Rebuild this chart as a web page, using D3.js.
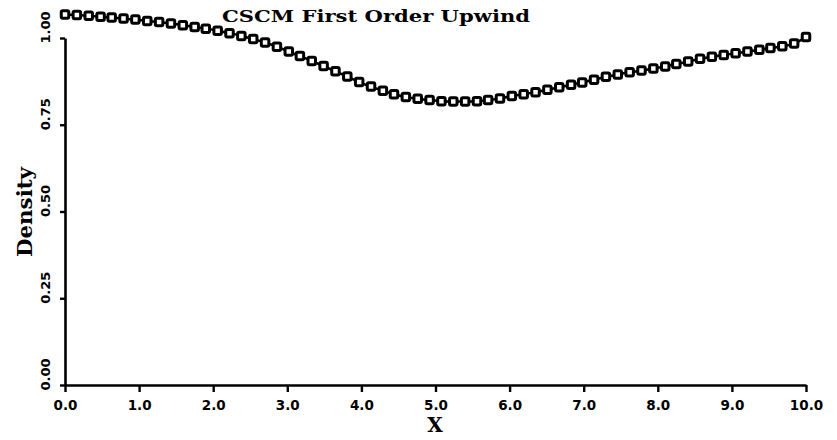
<!DOCTYPE html>
<html>
<head>
<meta charset="utf-8">
<script src="https://cdn.jsdelivr.net/npm/d3@7/dist/d3.min.js"></script>
<style>
  html, body { margin: 0; padding: 0; background: #fff; }
  svg { display: block; }
</style>
</head>
<body>
<svg id="chart" width="837" height="440"></svg>
<script>
const title = "CSCM First Order Upwind";
const xLabel = "X";
const yLabel = "Density";
const xTicks = [0, 1, 2, 3, 4, 5, 6, 7, 8, 9, 10];
const yTicks = [0, 0.25, 0.5, 0.75, 1.0];

const xValues = [0.00,0.16,0.32,0.48,0.63,0.79,0.95,1.11,1.27,1.43,1.59,1.75,1.90,2.06,2.22,2.38,
  2.54,2.70,2.86,3.02,3.17,3.33,3.49,3.65,3.81,3.97,4.13,4.29,4.44,4.60,4.76,4.92,
  5.08,5.24,5.40,5.56,5.71,5.87,6.03,6.19,6.35,6.51,6.67,6.83,6.98,7.14,7.30,7.46,
  7.62,7.78,7.94,8.10,8.25,8.41,8.57,8.73,8.89,9.05,9.21,9.37,9.52,9.68,9.84,10.00];
const density = [1.068,1.066,1.064,1.061,1.059,1.056,1.053,1.049,1.046,1.042,1.037,1.032,1.027,1.021,1.014,1.006,
  0.997,0.987,0.975,0.961,0.948,0.934,0.919,0.904,0.889,0.873,0.860,0.848,0.838,0.830,0.825,0.821,
  0.818,0.817,0.817,0.818,0.821,0.826,0.833,0.838,0.844,0.851,0.858,0.865,0.872,0.880,0.888,0.895,
  0.901,0.906,0.912,0.918,0.925,0.932,0.940,0.946,0.951,0.956,0.961,0.966,0.971,0.976,0.984,1.003];

const data = xValues.map((x, i) => ({ x, y: density[i] }));

const svg = d3.select("#chart");
const x = d3.scaleLinear().domain([0, 10]).range([65, 806]);
const y = d3.scaleLinear().domain([0, 1]).range([385, 38]);

const serif = "'DejaVu Serif', serif";
const sans = "'DejaVu Sans', sans-serif";

// X axis
const xAxis = svg.append("g")
  .attr("transform", "translate(0,385)")
  .call(d3.axisBottom(x).tickValues(xTicks).tickFormat(d3.format(".1f")).tickSize(7).tickSizeOuter(0));
xAxis.select(".domain").attr("stroke", "#000").attr("stroke-width", 2.6);
xAxis.selectAll(".tick line").attr("stroke", "#000").attr("stroke-width", 2.4);
xAxis.selectAll(".tick text")
  .attr("font-family", sans).attr("font-weight", "bold").attr("font-size", 13.5)
  .attr("fill", "#000").attr("dy", null).attr("y", 25);

// Y axis
const yAxis = svg.append("g")
  .attr("transform", "translate(65,0)")
  .call(d3.axisLeft(y).tickValues(yTicks).tickFormat(d3.format(".2f")).tickSize(5).tickSizeOuter(0));
yAxis.select(".domain").attr("stroke", "#000").attr("stroke-width", 2.6);
yAxis.selectAll(".tick line").attr("stroke", "#000").attr("stroke-width", 2.4);
yAxis.selectAll(".tick text")
  .attr("font-family", sans).attr("font-weight", "bold").attr("font-size", 13)
  .attr("fill", "#000").attr("x", null).attr("dy", null)
  .attr("text-anchor", "middle")
  .attr("transform", "translate(-15,-11) rotate(-90)");

// Line
svg.append("path")
  .datum(data)
  .attr("fill", "none").attr("stroke", "#000").attr("stroke-width", 2.5)
  .attr("d", d3.line().x(d => x(d.x)).y(d => y(d.y)).curve(d3.curveMonotoneX));

// Square markers
const s = 7.5;
svg.append("g").selectAll("rect")
  .data(data).enter().append("rect")
  .attr("x", d => x(d.x) - s / 2).attr("y", d => y(d.y) - s / 2)
  .attr("width", s).attr("height", s).attr("rx", 1.5)
  .attr("fill", "#fff").attr("stroke", "#000").attr("stroke-width", 3);

// Title
svg.append("text")
  .attr("x", 376).attr("y", 22).attr("text-anchor", "middle")
  .attr("font-family", serif).attr("font-weight", "bold").attr("font-size", 17)
  .attr("textLength", 308).attr("lengthAdjust", "spacingAndGlyphs")
  .text(title);

// Axis titles
svg.append("text")
  .attr("x", 435).attr("y", 432).attr("text-anchor", "middle")
  .attr("font-family", serif).attr("font-weight", "bold").attr("font-size", 20)
  .text(xLabel);

svg.append("text")
  .attr("transform", "translate(32,212) rotate(-90)")
  .attr("text-anchor", "middle")
  .attr("font-family", serif).attr("font-weight", "bold").attr("font-size", 20)
  .attr("textLength", 90).attr("lengthAdjust", "spacingAndGlyphs")
  .text(yLabel);
</script>
</body>
</html>
